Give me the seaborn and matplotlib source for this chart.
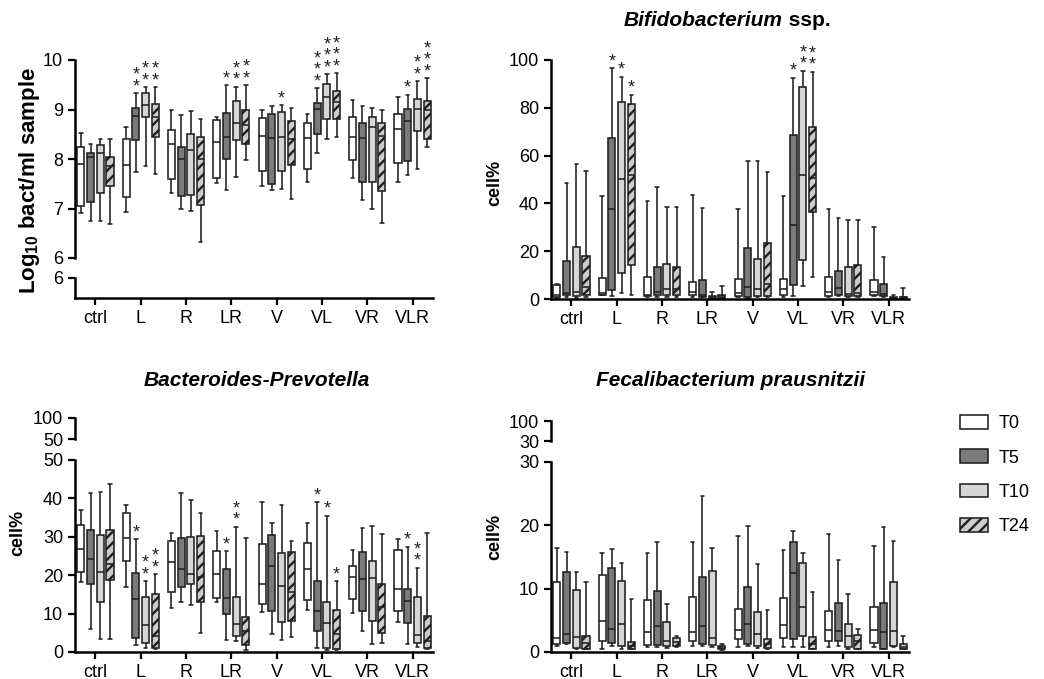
import numpy as np
import pandas as pd
import matplotlib
matplotlib.use('Agg')
import matplotlib.pyplot as plt
from matplotlib.patches import Patch
import seaborn as sns

groups = ['ctrl', 'L', 'R', 'LR', 'V', 'VL', 'VR', 'VLR']
times = ['T0', 'T5', 'T10', 'T24']

# five-number summaries (low whisker, q1, median, q3, high whisker) per group and time
log10_stats = [
    [(6.9, 7.05, 7.9, 8.25, 8.53), (6.74, 7.13, 8.04, 8.13, 8.3), (6.75, 7.32, 8.12, 8.28, 8.4), (6.68, 7.45, 7.85, 8.05, 8.4)],
    [(6.93, 7.24, 7.88, 8.4, 8.65), (7.73, 8.38, 8.87, 9.03, 9.33), (7.85, 8.84, 9.1, 9.33, 9.45), (7.7, 8.45, 8.85, 9.12, 9.45)],
    [(7.32, 7.6, 8.31, 8.58, 8.99), (7.0, 7.26, 8.0, 8.24, 8.88), (6.95, 7.28, 8.18, 8.5, 8.96), (6.32, 7.08, 8.0, 8.45, 8.8)],
    [(7.52, 7.62, 8.35, 8.78, 8.85), (7.38, 8.0, 8.45, 8.92, 9.49), (7.63, 8.38, 8.73, 9.18, 9.46), (7.98, 8.31, 8.68, 9.0, 9.49)],
    [(7.45, 7.76, 8.46, 8.82, 9.0), (7.38, 7.5, 8.42, 8.9, 9.07), (7.4, 7.75, 8.45, 8.94, 9.09), (7.2, 7.87, 8.4, 8.77, 9.04)],
    [(7.53, 7.79, 8.43, 8.72, 8.9), (8.13, 8.5, 9.01, 9.13, 9.43), (8.41, 8.8, 9.26, 9.51, 9.71), (8.45, 8.8, 9.15, 9.37, 9.73)],
    [(7.61, 7.97, 8.45, 8.85, 9.2), (7.18, 7.53, 8.43, 8.73, 9.08), (6.99, 7.53, 8.65, 8.85, 9.03), (6.71, 7.35, 8.47, 8.72, 9.0)],
    [(7.53, 7.92, 8.61, 8.9, 9.26), (7.68, 7.95, 8.77, 9.02, 9.3), (7.8, 8.56, 9.01, 9.22, 9.57), (8.24, 8.41, 9.0, 9.17, 9.63)],
]
log10_stars = [[0, 0, 0, 0], [0, 2, 2, 2], [0, 0, 0, 0], [0, 1, 2, 2],
               [0, 0, 1, 0], [0, 3, 3, 3], [0, 0, 0, 0], [0, 1, 2, 3]]

bifido_stats = [
    [(0.4, 0.7, 1.8, 6.0, 6.4), (1.0, 1.8, 2.5, 16, 48.5), (0.4, 1.1, 2.8, 21.6, 56.5), (0.7, 1.5, 5.0, 18.2, 53.5)],
    [(1.5, 1.8, 2.5, 8.6, 43), (1.1, 3.9, 37.7, 67.3, 96.5), (2.5, 10.9, 50, 82.4, 93), (1.8, 14.3, 51.7, 81.6, 85.4)],
    [(0.7, 1.1, 1.7, 9.2, 40.8), (1.0, 1.7, 2.8, 13.4, 46.7), (1.0, 1.5, 4.2, 14.8, 38.7), (1.0, 1.5, 4.2, 13.4, 38.7)],
    [(1.0, 1.8, 2.9, 7.0, 43.6), (0.7, 1.0, 1.8, 8.0, 38), (0.2, 0.4, 0.7, 1.1, 2.9), (0.3, 0.6, 1.1, 1.8, 5.6)],
    [(0.7, 1.1, 2.5, 8.4, 37.7), (0.4, 0.8, 4.9, 21.3, 57.8), (0.7, 1.1, 4.2, 16.7, 57.8), (0.7, 1.1, 6.4, 23.4, 53)],
    [(1.0, 1.8, 4.2, 8.4, 43), (1.1, 6.0, 31, 68.7, 92.6), (5.6, 16.4, 51.7, 88.6, 95.5), (9.2, 36.4, 50.6, 71.9, 95.1)],
    [(0.8, 1.4, 2.9, 9.0, 37.7), (1.1, 1.8, 4.6, 11.6, 33.8), (0.8, 1.1, 2.2, 13.4, 32.9), (0.8, 1.1, 2.5, 14.3, 32.9)],
    [(1.1, 1.5, 2.9, 7.8, 30), (0.8, 1.1, 2.2, 6.3, 17.4), (0.3, 0.4, 0.5, 0.7, 1.7), (0.4, 0.5, 0.7, 1.0, 4.5)],
]
bifido_stars = [[0, 0, 0, 0], [0, 1, 1, 1], [0, 0, 0, 0], [0, 0, 0, 0],
                [0, 0, 0, 0], [0, 1, 2, 2], [0, 0, 0, 0], [0, 0, 0, 0]]

bactero_stats = [
    [(18.3, 20.9, 26.8, 33, 37.1), (6.1, 17.6, 24.2, 31.9, 41.5), (3.5, 12.9, 20.9, 30.4, 41.7), (3.5, 18.8, 23.0, 31.9, 43.7)],
    [(17, 23.7, 29.6, 36.3, 38.4), (1.7, 3.7, 13.7, 20.7, 29.3), (1.0, 2.4, 7.0, 14.3, 18.5), (0.9, 1.0, 4.1, 15.0, 20.2)],
    [(11.5, 15.7, 23.5, 29, 31), (12.9, 17, 21.6, 29.8, 41.3), (12.2, 17.8, 20.4, 30, 39.6), (5, 13, 19.5, 30.3, 36.3)],
    [(12.9, 14.1, 20.3, 26.3, 31.5), (3.0, 9.8, 14.1, 21.7, 26.3), (2.8, 4.2, 7.4, 14.3, 32.6), (0.6, 1.9, 5.5, 9.1, 29.6)],
    [(10.3, 12.4, 17.8, 28, 39.1), (4.8, 10.7, 22.5, 30.4, 33.5), (3.0, 7.7, 17.3, 25.9, 38.4), (3.9, 8, 15.5, 26.1, 29)],
    [(10.9, 13.6, 21.6, 28.5, 33.7), (1.0, 5.5, 10.7, 18.5, 39), (0.6, 1.0, 7.6, 13, 35.5), (0.6, 0.9, 4.8, 11, 18.4)],
    [(10.2, 13.9, 19.6, 22.4, 26.5), (5.5, 10.6, 18.9, 26.1, 32.3), (2.0, 8.1, 19.4, 23.7, 32.9), (2.4, 5, 11.7, 17.8, 30.6)],
    [(7.8, 10.6, 16.3, 26.5, 29.3), (2.0, 7.6, 13.2, 16.3, 27.4), (1.3, 2.3, 4.3, 14.3, 22), (0.9, 1.1, 2.9, 9.4, 31.1)],
]
bactero_stars = [[0, 0, 0, 0], [0, 1, 2, 2], [0, 0, 0, 0], [0, 1, 2, 0],
                 [0, 0, 0, 0], [0, 1, 1, 1], [0, 0, 0, 0], [0, 1, 2, 0]]

fecali_stats = [
    [(1.0, 1.3, 2.2, 11, 16.5), (1.2, 1.5, 2.9, 12.7, 15.8), (0.5, 0.7, 2.4, 9.8, 12.7), (0.4, 0.5, 1.4, 2.5, 11.1)],
    [(0.5, 1.8, 4.9, 12.2, 15.6), (0.9, 1.5, 3.7, 13.2, 16.2), (0.5, 0.9, 4.4, 11.2, 14), (0.4, 0.5, 0.9, 1.6, 8.3)],
    [(0.8, 1.1, 3.2, 8.2, 15.7), (0.8, 1.1, 4.1, 9.7, 17.4), (0.7, 0.9, 1.7, 4.8, 7.6), (0.8, 1.0, 1.6, 2.2, 2.5)],
    [(1.0, 1.7, 3.2, 8.7, 17.4), (0.9, 1.3, 4.1, 11.8, 24.7), (0.8, 1.1, 2.2, 12.8, 16.5), (0.3, 0.4, 0.6, 0.9, 1.2)],
    [(0.8, 2.0, 3.5, 6.8, 18.3), (0.9, 1.3, 4.5, 10.2, 19.9), (0.7, 0.9, 2.8, 6.3, 13.9), (0.5, 0.6, 1.2, 2.1, 6.7)],
    [(0.8, 2.2, 4.2, 8.5, 16.1), (0.8, 2.0, 12.5, 17.4, 19.1), (0.8, 2.5, 7.1, 14, 15.7), (0.4, 0.5, 1.2, 2.3, 9.5)],
    [(0.8, 1.8, 3.4, 6.4, 18.6), (0.9, 1.8, 3.3, 7.8, 14.6), (0.5, 0.8, 2.5, 4.4, 9.2), (0.4, 0.5, 1.7, 2.7, 3.7)],
    [(0.8, 1.4, 3.5, 7.1, 16.8), (0.4, 0.5, 3.2, 7.7, 19.8), (0.8, 1.0, 3.3, 11, 17.5), (0.4, 0.5, 0.8, 1.3, 2.5)],
]

colors = ['#ffffff', '#7a7a7a', '#d6d6d6', '#cccccc']
line_c = '#1f1f1f'
BOX_W = 0.86
GAP = 0.28
HATCH = '///'

sns.set_style('ticks')
plt.rcParams['font.family'] = ['Liberation Sans', 'DejaVu Sans']
plt.rcParams['mathtext.fontset'] = 'custom'
plt.rcParams['mathtext.rm'] = 'Liberation Sans'
plt.rcParams['mathtext.bf'] = 'Liberation Sans:bold'
plt.rcParams['hatch.linewidth'] = 1.7
plt.rcParams['axes.linewidth'] = 1.8
for key in ['text.color', 'axes.edgecolor', 'xtick.color', 'ytick.color',
            'xtick.labelcolor', 'ytick.labelcolor', 'axes.labelcolor']:
    plt.rcParams[key] = 'black'

W, H = 1044, 679
fig = plt.figure(figsize=(W / 100, H / 100), dpi=100)


def rect(l, t, r, b):
    return [l / W, 1 - b / H, (r - l) / W, (b - t) / H]


def style_ax(ax):
    sns.despine(ax=ax)
    ax.tick_params(axis='both', direction='out', length=5, width=1.6, labelsize=13,
                   color='black', labelcolor='black')
    ax.set_xlabel('')
    ax.set_ylabel('')
    ax.set_xlim(-0.45, 7.45)


def draw_boxes(ax, stats, stars=None):
    rows = []
    for g, per_time in zip(groups, stats):
        for t, five in zip(times, per_time):
            for v in five:
                rows.append({'group': g, 'time': t, 'value': v})
    df = pd.DataFrame(rows)
    sns.boxplot(data=df, x='group', y='value', hue='time', order=groups, hue_order=times,
                palette=colors, whis=np.inf, width=BOX_W, gap=GAP, linewidth=1.15,
                linecolor=line_c, legend=False, ax=ax)
    for box in ax.containers[3].boxes:
        box.set_hatch(HATCH)
    style_ax(ax)
    if stars is None:
        return
    step = BOX_W / len(times)
    for i, per_time in enumerate(stats):
        for h, five in enumerate(per_time):
            n = stars[i][h]
            if n:
                x = i + (h - 1.5) * step
                ax.annotate('\n'.join(['*'] * n), xy=(x, five[4]), xytext=(0, -1.5),
                            textcoords='offset points', ha='center', va='bottom',
                            fontsize=13, linespacing=0.58, color='#222222')


# top left: log10 counts with broken axis
ax1 = fig.add_axes(rect(75, 60, 433, 258))
draw_boxes(ax1, log10_stats, log10_stars)
ax1.set_ylim(6, 10)
ax1.set_yticks([6, 7, 8, 9, 10])
ax1.spines['bottom'].set_visible(False)
ax1.tick_params(axis='x', bottom=False, labelbottom=False)

ax1b = fig.add_axes(rect(75, 278, 433, 298))
style_ax(ax1b)
ax1b.set_ylim(5, 6)
ax1b.set_yticks([6])
ax1b.set_xticks(range(len(groups)), groups)

# top right: Bifidobacterium
ax2 = fig.add_axes(rect(551, 60, 909, 299))
draw_boxes(ax2, bifido_stats, bifido_stars)
ax2.set_ylim(0, 100)
ax2.set_yticks([0, 20, 40, 60, 80, 100])
ax2.set_xticks(range(len(groups)), groups)

# bottom left: Bacteroides-Prevotella
ax3t = fig.add_axes(rect(75, 418, 433, 439))
style_ax(ax3t)
ax3t.set_ylim(50, 100)
ax3t.set_yticks([50, 100])
ax3t.spines['bottom'].set_visible(False)
ax3t.tick_params(axis='x', bottom=False, labelbottom=False)
ax3 = fig.add_axes(rect(75, 460, 433, 652))
draw_boxes(ax3, bactero_stats, bactero_stars)
ax3.set_ylim(0, 50)
ax3.set_yticks([0, 10, 20, 30, 40, 50])
ax3.set_xticks(range(len(groups)), groups)

# bottom right: Fecalibacterium
ax4t = fig.add_axes(rect(551, 421, 909, 441))
style_ax(ax4t)
ax4t.set_ylim(30, 100)
ax4t.set_yticks([30, 100])
ax4t.spines['bottom'].set_visible(False)
ax4t.tick_params(axis='x', bottom=False, labelbottom=False)
ax4 = fig.add_axes(rect(551, 462, 909, 652))
draw_boxes(ax4, fecali_stats)
ax4.set_ylim(0, 30)
ax4.set_yticks([0, 10, 20, 30])
ax4.set_xticks(range(len(groups)), groups)

# labels and titles
fig.text(30 / W, 1 - 180 / H, r'Log$_{\mathbf{10}}$ bact/ml sample', rotation=90,
         ha='center', va='center', fontsize=16, fontweight='bold')
fig.text(495 / W, 1 - 183 / H, 'cell%', rotation=90, ha='center', va='center',
         fontsize=13, fontweight='bold')
fig.text(18 / W, 1 - 533 / H, 'cell%', rotation=90, ha='center', va='center',
         fontsize=13, fontweight='bold')
fig.text(495 / W, 1 - 537 / H, 'cell%', rotation=90, ha='center', va='center',
         fontsize=13, fontweight='bold')

fig.text(783 / W, 1 - 20 / H, 'Bifidobacterium', ha='right', va='center',
         fontsize=15, fontweight='bold', style='italic')
fig.text(783 / W, 1 - 20 / H, ' ssp.', ha='left', va='center',
         fontsize=15, fontweight='bold')
fig.text(257 / W, 1 - 380 / H, 'Bacteroides-Prevotella', ha='center', va='center',
         fontsize=15, fontweight='bold', style='italic')
fig.text(730 / W, 1 - 381 / H, 'Fecalibacterium prausnitzii', ha='center', va='center',
         fontsize=15, fontweight='bold', style='italic')

handles = [Patch(facecolor=c, edgecolor=line_c, linewidth=1.15, hatch=HATCH if t == 'T24' else None)
           for c, t in zip(colors, times)]
fig.legend(handles=handles, labels=times, loc='upper left',
           bbox_to_anchor=(960 / W, 1 - 415 / H), frameon=False, fontsize=13,
           handlelength=1.55, handleheight=0.8, labelspacing=0.95, handletextpad=0.6,
           borderpad=0, borderaxespad=0)

fig.savefig('out.png', dpi=100)
